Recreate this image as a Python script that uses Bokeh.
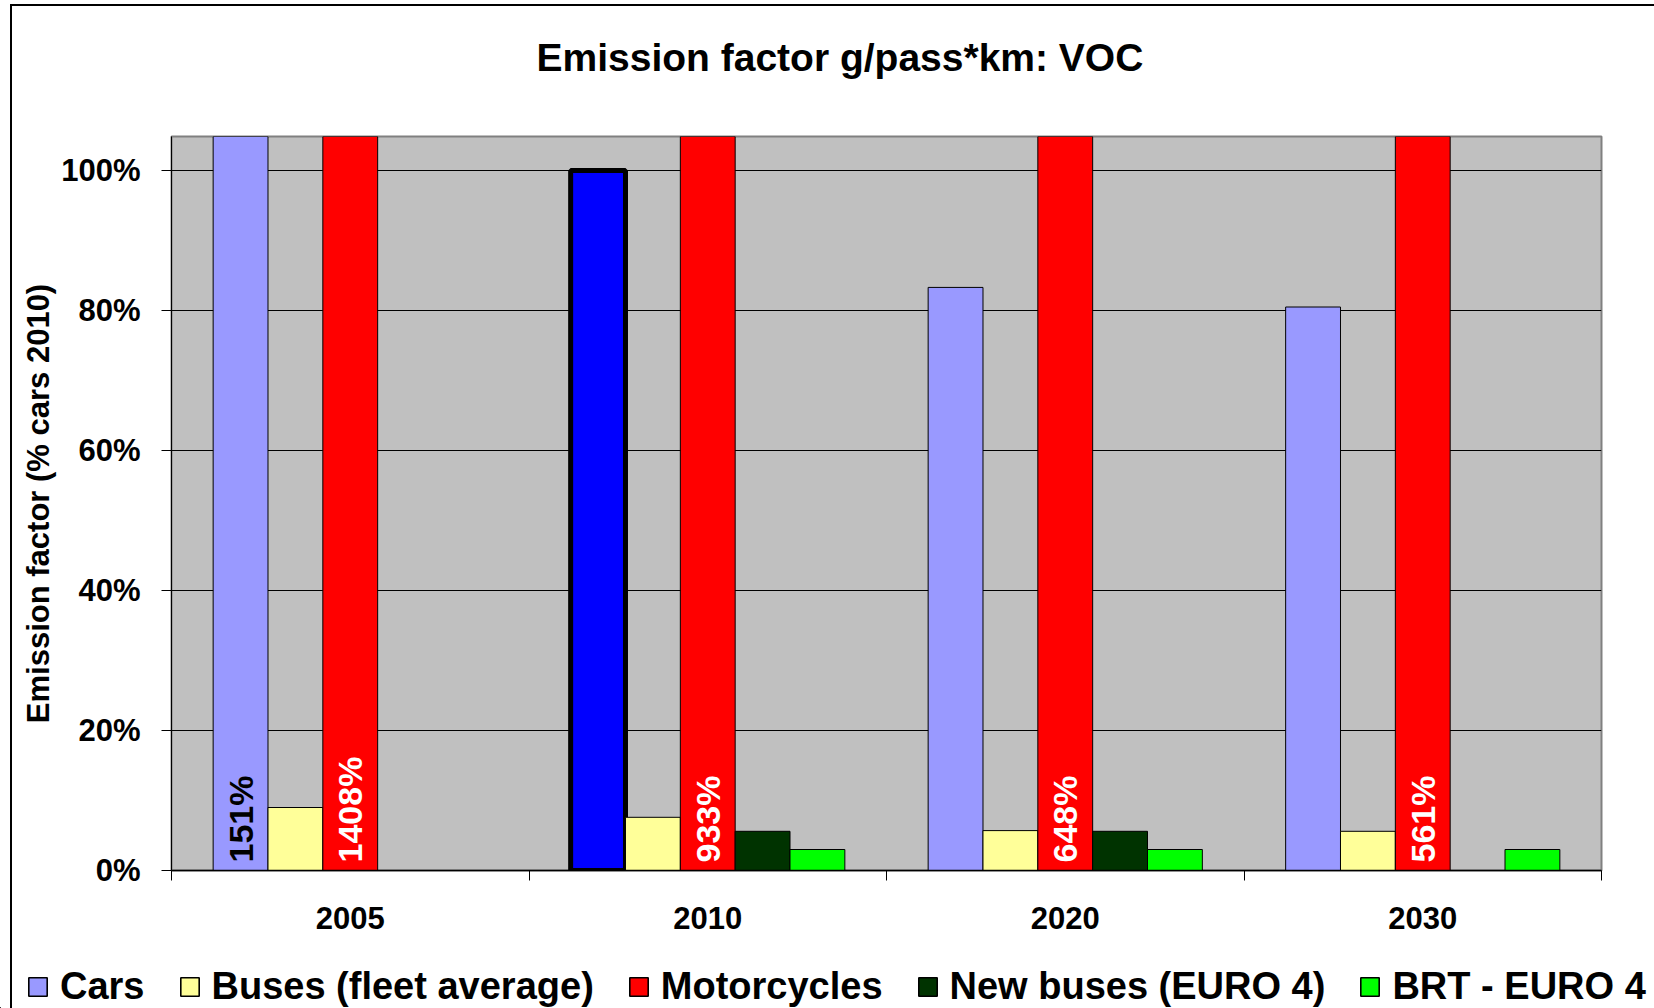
import numpy as np
from bokeh.plotting import figure
from bokeh.models import (ColumnDataSource, Range1d, FixedTicker, Title, InlineStyleSheet,
                          NumeralTickFormatter, Legend, LegendItem)
from bokeh.core.properties import value
from bokeh.embed import file_html
from bokeh.resources import INLINE

# ---------------- data ----------------
years = ["2005", "2010", "2020", "2030"]
series_names = ["Cars", "Buses (fleet average)", "Motorcycles",
                "New buses (EURO 4)", "BRT - EURO 4"]
cars = [1.51, 1.00, 0.833, 0.805]
buses = [0.090, 0.076, 0.057, 0.056]
motorcycles = [14.08, 9.33, 6.48, 5.61]
new_buses = [np.nan, 0.056, 0.056, np.nan]
brt = [np.nan, 0.030, 0.030, 0.030]
y_ticks = [0.0, 0.2, 0.4, 0.6, 0.8, 1.0]
base_year = "2010"
labelled_points = [("Cars", "2005"), ("Motorcycles", "2005"), ("Motorcycles", "2010"),
                   ("Motorcycles", "2020"), ("Motorcycles", "2030")]

series_values = [cars, buses, motorcycles, new_buses, brt]
colors = ["#9999FF", "#FFFF99", "#FF0000", "#003300", "#00FF00"]
label_colors = {"Cars": "black", "Motorcycles": "white"}

FONT = "Liberation Sans"
BAR_W = 0.1534
W = 1654
H_MAIN = 950
H_LEG = 58

# chart-area frame lines (top and left edge of the chart box)
main_css = InlineStyleSheet(css=""":host::before { content: ""; position: absolute; left: 10px; top: 4px;
  right: 0; bottom: 0; border-top: 2px solid black; border-left: 2px solid black;
  pointer-events: none; z-index: 10; }""")
leg_css = InlineStyleSheet(css=""":host::before { content: ""; position: absolute; left: 10px; top: 0;
  width: 0; bottom: 0; border-left: 2px solid black; pointer-events: none; z-index: 10; }""")

p = figure(width=W, height=H_MAIN,
           x_range=Range1d(0, len(years)), y_range=Range1d(0, 1.0486),
           output_backend="svg", toolbar_location=None,
           min_border_left=171, min_border_right=53,
           min_border_top=136, min_border_bottom=H_MAIN - 870,
           background_fill_color="#C0C0C0", border_fill_color="white",
           stylesheets=[main_css])

# title (a blank spacer title sits between it and the plot area)
p.add_layout(Title(text=" ", text_font_size="10px", standoff=40), "above")
p.add_layout(Title(text="Emission factor g/pass*km: VOC", align="left", offset=365,
                   text_font=FONT, text_font_size="39px", text_font_style="bold",
                   text_color="black", standoff=10), "above")

p.outline_line_color = "#808080"
p.outline_line_width = 2

# x axis: labels at category centers, ticks at category boundaries
p.xaxis.ticker = FixedTicker(ticks=[i + 0.5 for i in range(len(years))],
                             minor_ticks=list(range(len(years) + 1)))
p.xaxis.major_label_overrides = {i + 0.5: y for i, y in enumerate(years)}
p.xaxis.major_tick_out = 0
p.xaxis.major_tick_in = 0
p.xaxis.minor_tick_out = 10
p.xaxis.minor_tick_in = 0
p.xaxis.minor_tick_line_color = "black"
p.xaxis.axis_line_color = "black"
p.xaxis.axis_line_width = 1.5
p.xaxis.major_label_text_font = FONT
p.xaxis.major_label_text_font_size = "31px"
p.xaxis.major_label_text_font_style = "bold"
p.xaxis.major_label_text_color = "black"
p.xaxis.major_label_standoff = 26

# y axis
p.yaxis.ticker = FixedTicker(ticks=y_ticks)
p.yaxis.formatter = NumeralTickFormatter(format="0%")
p.yaxis.major_tick_out = 10
p.yaxis.major_tick_in = 0
p.yaxis.major_tick_line_color = "black"
p.yaxis.minor_tick_line_color = None
p.yaxis.axis_line_color = "black"
p.yaxis.major_label_text_font = FONT
p.yaxis.major_label_text_font_size = "31px"
p.yaxis.major_label_text_font_style = "bold"
p.yaxis.major_label_text_color = "black"
p.yaxis.major_label_standoff = 21
p.yaxis.axis_label = "Emission factor (% cars 2010)"
p.yaxis.axis_label_text_font = FONT
p.yaxis.axis_label_text_font_size = "31px"
p.yaxis.axis_label_text_font_style = "bold"
p.yaxis.axis_label_text_color = "black"
p.yaxis.axis_label_standoff = 2

p.xgrid.visible = False
p.ygrid.ticker = FixedTicker(ticks=y_ticks)
p.ygrid.grid_line_color = "black"
p.ygrid.grid_line_width = 1

# legend strip: separate figure; its ranges are far from the data so no bars show
pl = figure(width=W, height=H_LEG, x_range=Range1d(1000, 1001), y_range=Range1d(1000, 1001),
            output_backend="svg", toolbar_location=None,
            x_axis_location=None, y_axis_location=None,
            min_border_left=0, min_border_right=0, min_border_top=0, min_border_bottom=0,
            outline_line_color=None, background_fill_color="white", border_fill_color="white",
            stylesheets=[leg_css])
pl.grid.visible = False

# bars
leg_renderers = []
positions = {}
n = len(series_names)
for i, (name, vals, col) in enumerate(zip(series_names, series_values, colors)):
    off = (i - (n - 1) / 2) * BAR_W
    xs = [j + 0.5 + off for j in range(len(years))]
    positions[name] = dict(zip(years, xs))
    fills = [("#0000FF" if (name == "Cars" and y == base_year) else col) for y in years]
    lws = [(5 if (name == "Cars" and y == base_year) else 1) for y in years]
    src = ColumnDataSource(dict(x=xs, top=vals, fill=fills, lw=lws))
    p.vbar(x="x", top="top", bottom=0, width=BAR_W, source=src,
           fill_color="fill", line_color="black", line_width="lw")
    rl = pl.vbar(x="x", top="top", bottom=0, width=BAR_W, source=src,
                 fill_color=col, line_color="black", line_width=1.6)
    leg_renderers.append(rl)

# rotated value labels
lx, ly, lt, lc = [], [], [], []
for name, y in labelled_points:
    v = series_values[series_names.index(name)][years.index(y)]
    lx.append(positions[name][y])
    ly.append(0)
    lt.append(f"{round(v * 100)}%")
    lc.append(label_colors[name])
p.text(x="x", y="y", text="t", text_color="c",
       source=ColumnDataSource(dict(x=lx, y=ly, t=lt, c=lc)),
       angle=np.pi / 2, y_offset=-8, text_align="left", text_baseline="middle",
       text_font=value(FONT), text_font_size="34px", text_font_style="bold")

legend = Legend(items=[LegendItem(label=nm, renderers=[r]) for nm, r in zip(series_names, leg_renderers)],
                location=(26, 0), orientation="horizontal",
                padding=0, margin=0, spacing=33, label_standoff=11,
                glyph_width=23, glyph_height=23, label_height=23,
                label_text_font=FONT, label_text_font_size="38px",
                label_text_font_style="bold", label_text_color="black",
                border_line_color=None, background_fill_alpha=0)
pl.add_layout(legend)

open("out.html", "w").write(file_html((p, pl), INLINE))
